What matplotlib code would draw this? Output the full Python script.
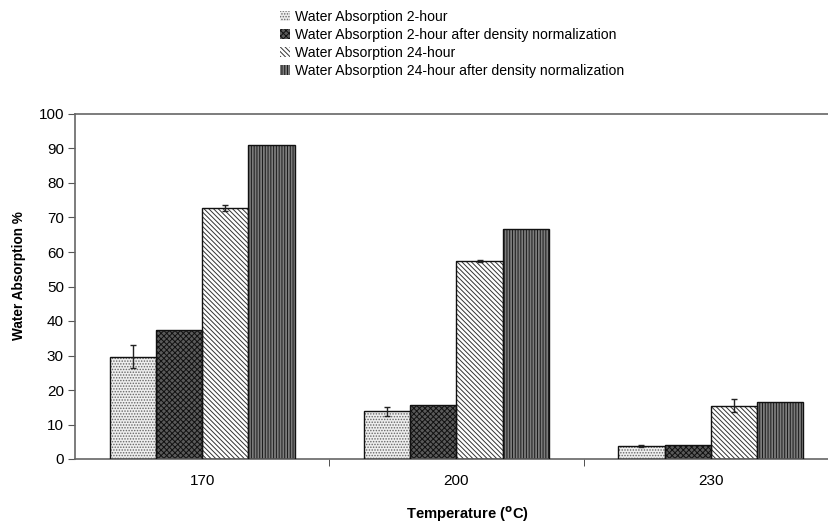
import matplotlib.pyplot as plt
import numpy as np

plt.rcParams['font.family'] = ['Liberation Sans', 'DejaVu Sans']
plt.rcParams['hatch.linewidth'] = 0.7

temps = ['170', '200', '230']
series = ['Water Absorption 2-hour',
          'Water Absorption 2-hour after density normalization',
          'Water Absorption 24-hour',
          'Water Absorption 24-hour after density normalization']
wa_2h = [29.7, 13.8, 3.7]
wa_2h_norm = [37.4, 15.7, 4.1]
wa_24h = [72.7, 57.3, 15.5]
wa_24h_norm = [91.0, 66.6, 16.6]
err_2h = [3.3, 1.4, 0.3]
err_24h = [0.8, 0.3, 2.0]

values = [wa_2h, wa_2h_norm, wa_24h, wa_24h_norm]
errors = [err_2h, None, err_24h, None]
faces = ['#eeeeee', '#5a5a5a', '#ffffff', '#7c7c7c']
hatches = ['......', 'xxxxxx', '\\' * 7, '|' * 6]
hcols = ['#666666', '#111111', '#333333', '#1a1a1a']

fig = plt.figure(figsize=(8.29, 5.25), dpi=100)
ax = fig.add_axes([75/829, (525-459)/525, 763/829, 345/525])

x = np.arange(len(temps))
w = 0.182
for i in range(4):
    pos = x + (i - 1.5) * w
    ax.bar(pos, values[i], w, color=faces[i], hatch=hatches[i],
           edgecolor=hcols[i], linewidth=0, label=series[i], zorder=2)
    ax.bar(pos, values[i], w, color='none', edgecolor='#111111',
           linewidth=1.0, zorder=3)
    if errors[i] is not None:
        ax.errorbar(pos, values[i], yerr=errors[i], fmt='none',
                    ecolor='#222222', elinewidth=1, capsize=2.5, zorder=4)

ax.set_xlim(-0.5, 2.5)
ax.set_ylim(0, 100)
ax.set_yticks(range(0, 101, 10))
ax.set_xticks(x)
ax.set_xticklabels(temps)
ax.set_xticks([0.5, 1.5], minor=True)
ax.tick_params(axis='x', which='major', length=0, pad=11, labelsize=11)
ax.tick_params(axis='x', which='minor', length=5, color='#333333')
ax.tick_params(axis='y', length=5, color='#555555', labelsize=11, pad=3)

for s in ['left', 'bottom', 'top']:
    ax.spines[s].set_color('#666666')
    ax.spines[s].set_linewidth(1.2)
ax.spines['right'].set_visible(False)

fig.text(19/829, 1 - 276/525, 'Water Absorption %', fontsize=9.8, fontweight='bold',
         rotation=90, ha='center', va='center')
fig.text(467/829, 1 - 514/525, r'Temperature ($\mathbf{^o}$C)', fontsize=10.6,
         fontweight='bold', ha='center', va='center')

handles, labels = ax.get_legend_handles_labels()
fig.legend(handles, labels, loc='upper left', bbox_to_anchor=(280/829, 1 - 10/525),
           frameon=False, fontsize=10.1, handlelength=0.7, handleheight=0.7,
           handletextpad=0.35, labelspacing=0.28, borderpad=0.0,
           borderaxespad=0.0)

fig.savefig('out.png', dpi=100)
